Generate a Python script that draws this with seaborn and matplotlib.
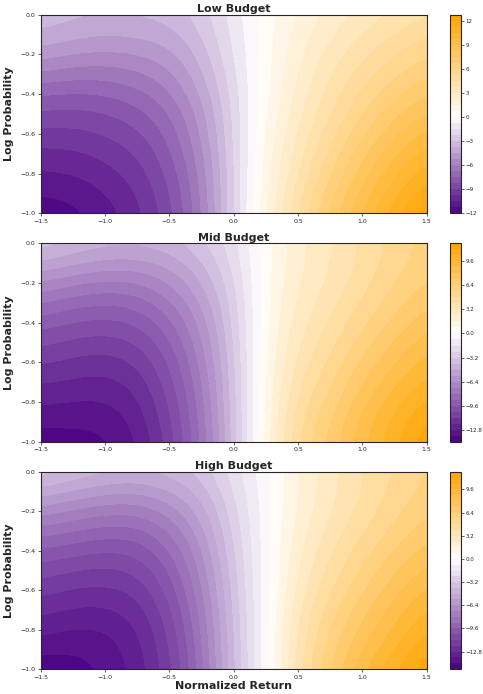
import numpy as np
import seaborn as sns
import matplotlib
matplotlib.use("Agg")
import matplotlib.pyplot as plt
from matplotlib.colors import LinearSegmentedColormap, ListedColormap, BoundaryNorm, TwoSlopeNorm

# ── Datos ────────────────────────────────────────────────────────────────────
x_vals = [-1.5, -1.25, -1.0, -0.75, -0.5, -0.25, 0.0, 0.25, 0.5, 0.75, 1.0, 1.25, 1.5]
y_vals = [0.0, -0.125, -0.25, -0.375, -0.5, -0.625, -0.75, -0.875, -1.0]

low_vals = [
    [-3.2, -3.5, -3.7, -3.6, -3.4, -2.6, -1.1, 0.4, 1.6, 2.5, 3.2, 3.8, 4.4],
    [-4.0, -4.4, -4.6, -4.5, -4.2, -3.1, -1.3, 0.4, 1.9, 3.0, 3.9, 4.7, 5.4],
    [-5.4, -5.8, -5.9, -5.7, -5.1, -3.7, -1.5, 0.5, 2.2, 3.5, 4.6, 5.5, 6.3],
    [-7.1, -7.3, -7.2, -6.8, -6.0, -4.3, -1.8, 0.6, 2.5, 4.0, 5.3, 6.4, 7.3],
    [-8.4, -8.5, -8.3, -7.8, -6.8, -4.9, -2.0, 0.8, 2.8, 4.5, 6.0, 7.3, 8.4],
    [-9.4, -9.4, -9.1, -8.6, -7.4, -5.3, -2.1, 1.0, 3.2, 5.1, 6.8, 8.3, 9.5],
    [-10.3, -10.2, -9.8, -9.2, -7.9, -5.7, -2.2, 1.2, 3.6, 5.7, 7.6, 9.3, 10.6],
    [-11.0, -10.9, -10.4, -9.7, -8.3, -6.0, -2.2, 1.4, 4.1, 6.4, 8.4, 10.2, 11.6],
    [-11.8, -11.5, -10.9, -10.0, -8.6, -6.2, -2.2, 1.6, 4.6, 7.0, 9.2, 11.0, 12.6],
]

mid_vals = [
    [-3.4, -4.0, -4.4, -4.5, -4.2, -3.3, -1.9, 0.5, 2.2, 3.1, 4.2, 5.1, 5.9],
    [-5.2, -5.8, -6.2, -6.2, -5.6, -4.3, -2.3, 0.6, 2.3, 3.2, 4.3, 5.3, 6.2],
    [-7.2, -7.8, -8.1, -7.9, -6.9, -5.2, -2.7, 0.7, 2.5, 3.5, 4.7, 5.8, 6.8],
    [-8.9, -9.4, -9.6, -9.3, -8.1, -6.0, -3.0, 0.8, 2.8, 4.0, 5.3, 6.5, 7.6],
    [-10.2, -10.6, -10.8, -10.4, -9.0, -6.6, -3.2, 0.9, 3.2, 4.5, 6.0, 7.3, 8.5],
    [-11.3, -11.6, -11.8, -11.3, -9.7, -7.1, -3.4, 1.0, 3.6, 5.1, 6.8, 8.1, 9.4],
    [-12.3, -12.5, -12.6, -12.0, -10.2, -7.5, -3.5, 1.1, 4.1, 5.7, 7.5, 9.0, 10.3],
    [-13.2, -13.3, -13.3, -12.5, -10.6, -7.8, -3.6, 1.2, 4.6, 6.3, 8.2, 9.8, 11.2],
    [-14.1, -14.0, -13.8, -12.9, -10.9, -8.0, -3.7, 1.3, 5.0, 6.7, 8.6, 10.3, 11.9],
]

high_vals = [
    [-3.4, -4.0, -4.5, -4.7, -4.4, -3.6, -2.0, -0.2, 1.6, 2.9, 4.0, 4.9, 5.7],
    [-5.5, -6.1, -6.6, -6.7, -6.0, -4.7, -2.4, -0.3, 1.7, 3.0, 4.1, 5.1, 6.0],
    [-7.6, -8.1, -8.5, -8.5, -7.5, -5.6, -2.8, -0.3, 1.9, 3.3, 4.5, 5.6, 6.6],
    [-9.4, -9.8, -10.1, -10.0, -8.7, -6.4, -3.1, -0.3, 2.2, 3.8, 5.1, 6.3, 7.4],
    [-10.8, -11.2, -11.4, -11.1, -9.6, -7.0, -3.4, -0.3, 2.5, 4.3, 5.8, 7.1, 8.3],
    [-11.9, -12.3, -12.4, -12.0, -10.3, -7.5, -3.6, -0.3, 2.9, 4.9, 6.5, 7.9, 9.2],
    [-12.9, -13.3, -13.3, -12.7, -10.9, -7.9, -3.8, -0.3, 3.3, 5.5, 7.2, 8.7, 10.1],
    [-13.9, -14.2, -14.0, -13.1, -11.3, -8.2, -3.9, -0.3, 3.6, 6.0, 7.9, 9.4, 11.0],
    [-15.0, -14.8, -14.3, -13.3, -11.6, -8.4, -4.0, -0.3, 3.8, 6.5, 8.7, 10.4, 11.9],
]

titles = ["Low Budget", "Mid Budget", "High Budget"]
# niveles de contorno: (mínimo, máximo, cantidad)
level_specs = [(-12.0, 12.75, 34), (-14.4, 12.0, 34), (-15.2, 12.0, 35)]

# ── Estilo ───────────────────────────────────────────────────────────────────
sns.set_theme(style="ticks")
plt.rcParams["font.family"] = ["DejaVu Sans"]

cmap = LinearSegmentedColormap.from_list("morado_naranja", ["#4B0082", "white", "#FFA500"])

W, H = 483, 694
fig = plt.figure(figsize=(W / 100, H / 100), dpi=100)

# posiciones en píxeles: (arriba, abajo)
ax_left, ax_right = 40.7, 426.7
cb_left, cb_right = 450, 461
rows_px = [(14.7, 213.3), (243.3, 441.7), (472, 669)]

dx = x_vals[1] - x_vals[0]
dy = y_vals[0] - y_vals[1]
extent = [x_vals[0] - dx / 2, x_vals[-1] + dx / 2, y_vals[-1] - dy / 2, y_vals[0] + dy / 2]

for i, (vals, title, spec, (top, bot)) in enumerate(zip([low_vals, mid_vals, high_vals], titles, level_specs, rows_px)):
    ax = fig.add_axes([ax_left / W, 1 - bot / H, (ax_right - ax_left) / W, (bot - top) / H])
    cax = fig.add_axes([cb_left / W, 1 - bot / H, (cb_right - cb_left) / W, (bot - top) / H])

    Z = np.array(vals)
    levels = np.linspace(*spec)
    # un color por banda, con el blanco centrado en 0
    centers = (levels[:-1] + levels[1:]) / 2
    band_cmap = ListedColormap(cmap(TwoSlopeNorm(vmin=levels[0], vcenter=0.0, vmax=levels[-1])(centers)))
    bnorm = BoundaryNorm(levels, band_cmap.N)

    im = ax.imshow(Z, extent=extent, origin="upper", aspect="auto",
                   interpolation="bicubic", interpolation_stage="data",
                   cmap=band_cmap, norm=bnorm)
    ax.set_xlim(x_vals[0], x_vals[-1])
    ax.set_ylim(y_vals[-1], y_vals[0])

    ax.set_title(title, fontsize=8, fontweight="bold", pad=2)
    ax.set_ylabel("Log Probability", fontsize=8, fontweight="bold", labelpad=4)
    if i == 2:
        ax.set_xlabel("Normalized Return", fontsize=8, fontweight="bold", labelpad=1)
    ax.tick_params(labelsize=4.5, length=2, width=0.5, pad=2)
    for s in ax.spines.values():
        s.set_linewidth(0.8)

    cb = fig.colorbar(im, cax=cax)
    cb.minorticks_off()
    cb.ax.tick_params(labelsize=4.0, length=2, width=0.5, pad=1.2)
    cb.outline.set_linewidth(0.8)

fig.savefig("out.png", dpi=100)
